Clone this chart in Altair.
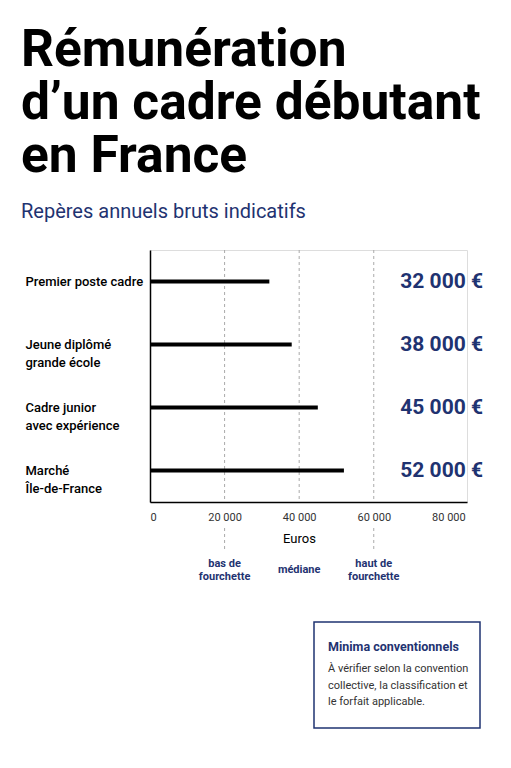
import altair as alt
import pandas as pd

# ---- data ----
categories = ["Premier poste cadre", "Jeune diplômé\ngrande école",
              "Cadre junior\navec expérience", "Marché\nÎle-de-France"]
values = [32000, 38000, 45000, 52000]
x_ticks = [0, 20000, 40000, 60000, 80000]
ref_values = [20000, 40000, 60000]
ref_names = ["bas de\nfourchette", "médiane", "haut de\nfourchette"]
ext_values = [20000, 60000]
box_title = "Minima conventionnels"
box_lines = ["À vérifier selon la convention",
             "collective, la classification et",
             "le forfait applicable."]

NAVY = "#1f3371"
FONT = "Roboto"
W, H = 317, 252

df = pd.DataFrame({"cat": categories, "value": values})
df["label"] = [f"{v:,}".replace(",", " ") + " €" for v in values]
refs = pd.DataFrame({"x": ref_values, "name": ref_names})
ext = pd.DataFrame({"x": ext_values})
box = pd.DataFrame({"t": [box_title], "body": ["\n".join(box_lines)]})

xscale = alt.Scale(domain=[0, 85000], nice=False)
yscale = alt.Scale(domain=categories, paddingInner=0, paddingOuter=0)

x_axis = alt.Axis(values=x_ticks, grid=False, ticks=False, domainColor="black",
                  domainWidth=1.5, labelColor="#333333", labelFontSize=11,
                  labelFont=FONT, labelPadding=9,
                  labelExpr="replace(format(datum.value, ','), ',', ' ')",
                  title="Euros", titleFont=FONT, titleFontSize=13,
                  titleFontWeight="normal", titleColor="black", titlePadding=10,
                  titleX=149)
y_axis = alt.Axis(title=None, ticks=False, domainColor="black", domainWidth=1.5,
                  labelAlign="left", labelPadding=125, labelFont=FONT,
                  labelFontSize=13, labelFontWeight=500, labelColor="black",
                  labelLineHeight=18,
                  labelExpr="split(datum.label, '\\n')")

base = alt.Chart(df)

grid = alt.Chart(refs).mark_rule(color="#aaaaaa", strokeDash=[3, 3], strokeWidth=1).encode(
    x=alt.X("x:Q", scale=xscale), y=alt.value(0), y2=alt.value(H))

ext_rules = alt.Chart(ext).mark_rule(color="#aaaaaa", strokeDash=[3, 3], strokeWidth=1).encode(
    x=alt.X("x:Q", scale=xscale), y=alt.value(H + 26), y2=alt.value(H + 48))

bars = base.mark_bar(color="black", size=4).encode(
    x=alt.X("value:Q", scale=xscale, axis=x_axis),
    y=alt.Y("cat:N", scale=yscale, axis=y_axis, sort=categories))

vlabels = base.mark_text(align="right", baseline="middle", font=FONT, fontSize=21,
                         fontWeight="bold", color=NAVY).encode(
    x=alt.value(333), y=alt.Y("cat:N", scale=yscale, sort=categories, axis=y_axis),
    text="label:N")

ref_style = dict(align="center", baseline="middle", font=FONT, fontSize=11,
                 fontWeight="bold", color=NAVY, lineBreak="\n", lineHeight=13)
ref_text2 = alt.Chart(refs).transform_filter("indexof(datum.name, '\\n') >= 0").mark_text(
    **ref_style).encode(x=alt.X("x:Q", scale=xscale), y=alt.value(H + 62), text="name:N")
ref_text1 = alt.Chart(refs).transform_filter("indexof(datum.name, '\\n') < 0").mark_text(
    **ref_style).encode(x=alt.X("x:Q", scale=xscale), y=alt.value(H + 68), text="name:N")

box_rect = alt.Chart(box).mark_rect(fill="white", stroke=NAVY, strokeWidth=1.5).encode(
    x=alt.value(164), x2=alt.value(330), y=alt.value(372), y2=alt.value(478))

box_head = alt.Chart(box).mark_text(align="left", baseline="middle", font=FONT,
                                    fontSize=12.5, fontWeight="bold", color=NAVY).encode(
    x=alt.value(178), y=alt.value(397), text="t:N")

box_body = alt.Chart(box).mark_text(align="left", baseline="middle", font=FONT,
                                    fontSize=11, color="#333333", lineBreak="\n",
                                    lineHeight=16.5).encode(
    x=alt.value(178), y=alt.value(419), text="body:N")

chart = alt.layer(grid, ext_rules, bars, vlabels, ref_text2, ref_text1,
                  box_rect, box_head, box_body).properties(
    width=W, height=H,
    padding={"left": 142, "top": 242, "right": 36, "bottom": 258},
    autosize=alt.AutoSizeParams(type="none"),
    title=alt.TitleParams(
        text=["Rémunération", "d’un cadre débutant", "en France"],
        subtitle="Repères annuels bruts indicatifs",
        anchor="start", font=FONT, fontSize=51.5, fontWeight="bold", color="black",
        lineHeight=53, subtitleColor=NAVY, subtitleFont=FONT, subtitleFontSize=20,
        subtitlePadding=19, offset=28, dx=-4),
).configure_view(stroke=None).configure(background="white")

chart.save("out.html", embed_options={"renderer": "svg", "actions": False})
